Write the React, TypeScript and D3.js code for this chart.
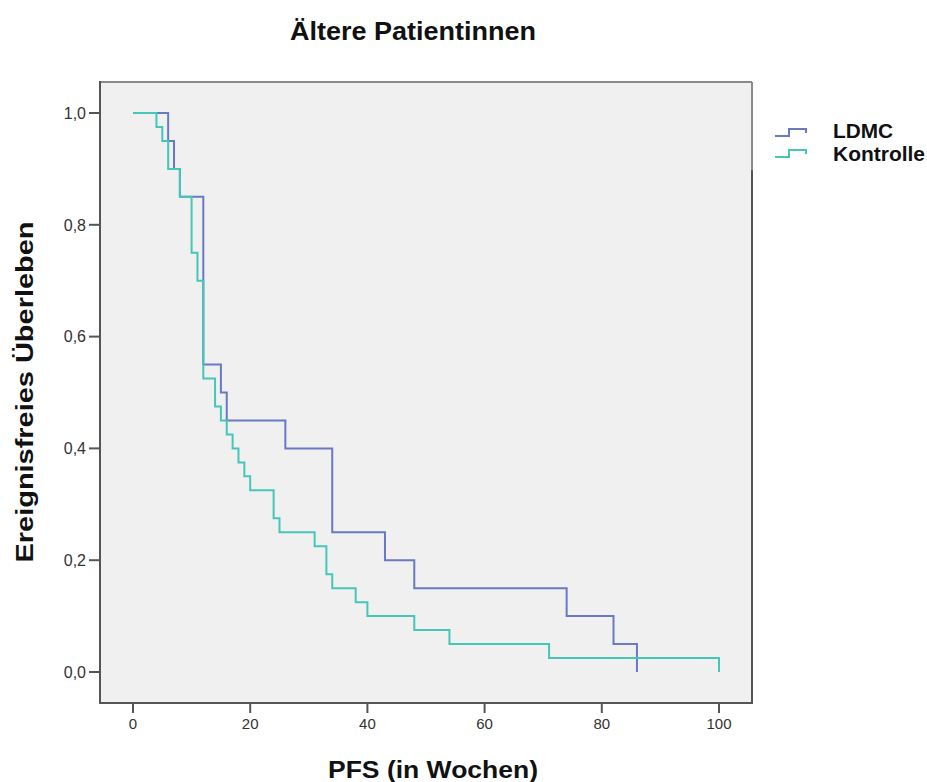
import React from "react";
import * as d3 from "d3";

const ldmcTimes = [0, 6, 7, 8, 12, 15, 16, 26, 34, 43, 48, 74, 82, 86];
const ldmcSurv = [1.0, 0.95, 0.9, 0.85, 0.55, 0.5, 0.45, 0.4, 0.25, 0.2, 0.15, 0.1, 0.05, 0.0];

const kontrTimes = [0, 4, 5, 6, 8, 10, 11, 12, 14, 15, 16, 17, 18, 19, 20, 24, 25, 31, 33, 34, 38, 40, 48, 54, 71, 100];
const kontrSurv = [1.0, 0.975, 0.95, 0.9, 0.85, 0.75, 0.7, 0.525, 0.475, 0.45, 0.425, 0.4, 0.375, 0.35, 0.325, 0.275, 0.25, 0.225, 0.175, 0.15, 0.125, 0.1, 0.075, 0.05, 0.025, 0.0];

const xTicks = [0, 20, 40, 60, 80, 100];
const yTicks = [0, 0.2, 0.4, 0.6, 0.8, 1.0];
const seriesNames = ["LDMC", "Kontrolle"];
const seriesColors = ["#6b78c2", "#45c7b7"];

const title = "Ältere Patientinnen";
const xLabel = "PFS (in Wochen)";
const yLabel = "Ereignisfreies Überleben";

export default function App() {
  const W = 927, H = 782;
  const frame = { left: 100, right: 752, top: 82, bottom: 703 };
  const x = d3.scaleLinear().domain([0, 100]).range([133, 719]);
  const y = d3.scaleLinear().domain([0, 1]).range([672, 113]);
  const line = d3
    .line<[number, number]>()
    .x((d) => x(d[0]))
    .y((d) => y(d[1]))
    .curve(d3.curveStepAfter);

  const ldmc: [number, number][] = ldmcTimes.map((t, i) => [t, ldmcSurv[i]]);
  const kontr: [number, number][] = kontrTimes.map((t, i) => [t, kontrSurv[i]]);
  const font = "'Liberation Sans', Arial, sans-serif";
  const fmt = (v: number) => v.toFixed(1).replace(".", ",");

  return (
    <svg width={W} height={H} style={{ position: "absolute", left: 0, top: 0, background: "#fff" }} fontFamily={font}>
      <rect x={frame.left} y={frame.top} width={frame.right - frame.left} height={frame.bottom - frame.top} fill="#f0f0f0" />
      {/* frame */}
      <line x1={frame.left} x2={frame.right} y1={frame.top} y2={frame.top} stroke="#8a8a8a" strokeWidth={2} />
      <line x1={frame.right} x2={frame.right} y1={frame.top} y2={170} stroke="#8a8a8a" strokeWidth={2} />
      <line x1={frame.right} x2={frame.right} y1={170} y2={frame.bottom} stroke="#555" strokeWidth={2} />
      <line x1={frame.left} x2={frame.left} y1={frame.top - 1} y2={frame.bottom + 1} stroke="#555" strokeWidth={2} />
      <line x1={frame.left - 1} x2={frame.right + 1} y1={frame.bottom} y2={frame.bottom} stroke="#555" strokeWidth={2} />

      {/* y ticks */}
      {yTicks.map((v) => (
        <g key={v}>
          <line x1={89} x2={frame.left} y1={y(v)} y2={y(v)} stroke="#555" strokeWidth={2} />
          <text x={86} y={y(v)} dy="0.36em" textAnchor="end" fontSize={16} fill="#333">
            {fmt(v)}
          </text>
        </g>
      ))}
      {/* x ticks */}
      {xTicks.map((v) => (
        <g key={v}>
          <line x1={x(v)} x2={x(v)} y1={frame.bottom} y2={frame.bottom + 10} stroke="#555" strokeWidth={2} />
          <text x={x(v)} y={729} textAnchor="middle" fontSize={15} fill="#333">
            {v}
          </text>
        </g>
      ))}

      {/* curves */}
      <path d={line(ldmc) || ""} fill="none" stroke={seriesColors[0]} strokeWidth={2} />
      <path d={line(kontr) || ""} fill="none" stroke={seriesColors[1]} strokeWidth={2} />

      {/* legend */}
      {seriesNames.map((name, i) => {
        const by = i === 0 ? 136 : 157;
        return (
          <g key={name}>
            <path
              d={`M775,${by} H789 V${by - 7} H806 V${by - 3}`}
              fill="none"
              stroke={seriesColors[i]}
              strokeWidth={2}
            />
            <text
              x={833}
              y={i === 0 ? 138 : 161}
              fontSize={20}
              fontWeight="bold"
              fill="#111"
              textLength={i === 0 ? 60 : 92}
              lengthAdjust="spacingAndGlyphs"
            >
              {name}
            </text>
          </g>
        );
      })}

      {/* titles */}
      <text x={413} y={40} textAnchor="middle" fontSize={25} fontWeight="bold" fill="#111" textLength={246} lengthAdjust="spacingAndGlyphs">
        {title}
      </text>
      <text x={433} y={778} textAnchor="middle" fontSize={23} fontWeight="bold" fill="#111" textLength={210} lengthAdjust="spacingAndGlyphs">
        {xLabel}
      </text>
      <text
        transform={`translate(33,392) rotate(-90)`}
        textAnchor="middle"
        fontSize={23}
        fontWeight="bold"
        fill="#111"
        textLength={341}
        lengthAdjust="spacingAndGlyphs"
      >
        {yLabel}
      </text>
    </svg>
  );
}
